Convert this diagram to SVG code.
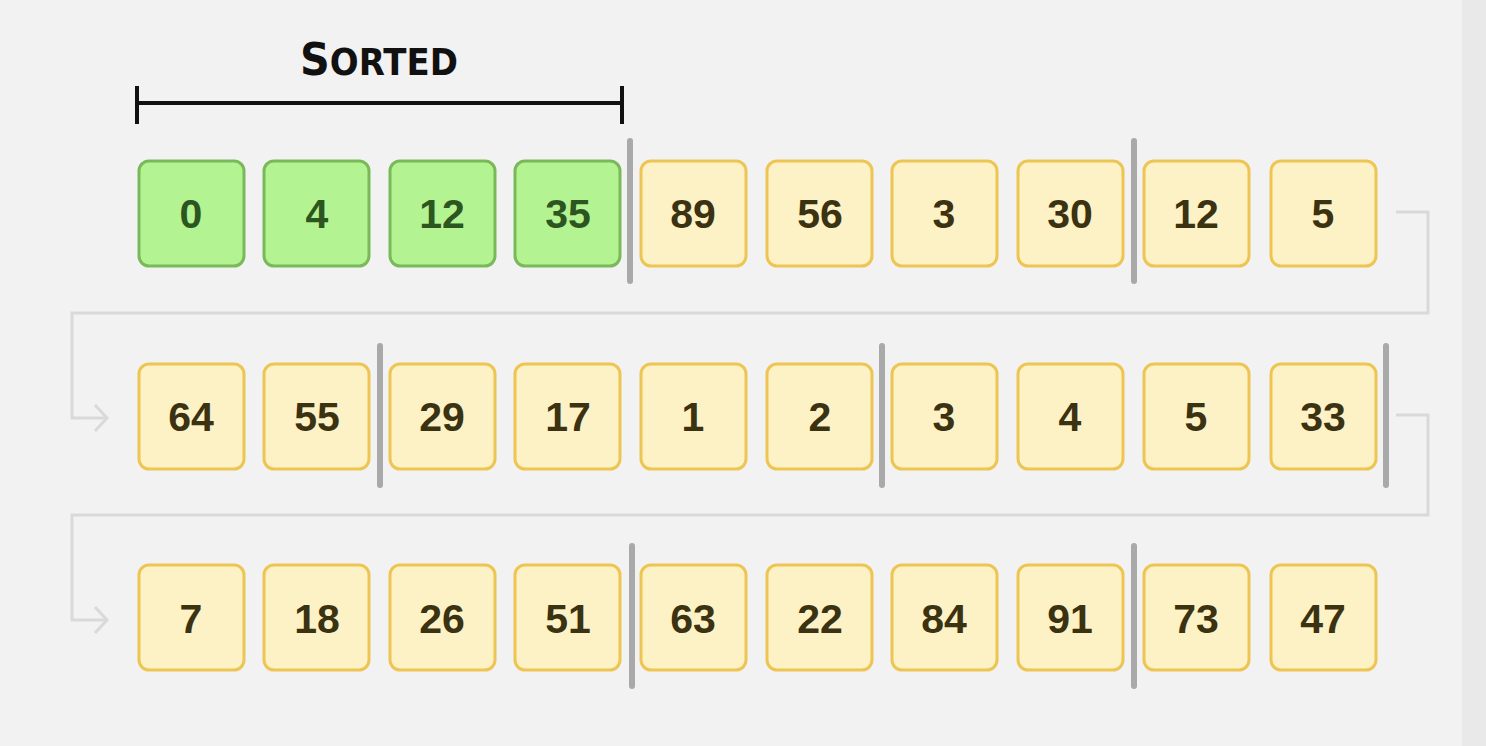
<svg xmlns="http://www.w3.org/2000/svg" width="1486" height="746" viewBox="0 0 1486 746">
<defs>
<style>
.g rect{fill:#b4f391;stroke:#79b95a;stroke-width:3}
.g text{fill:#2d5520}
.y rect{fill:#fdf1c6;stroke:#eec552;stroke-width:3}
.y text{fill:#3a3210}
text.n{font-family:"Liberation Sans",Arial,sans-serif;font-weight:bold;font-size:41px;text-anchor:middle}
.div{stroke:#a9a9a9;stroke-width:6;stroke-linecap:round}
.conn{fill:none;stroke:#d9d9d9;stroke-width:3}
</style>
</defs>
<rect width="1486" height="746" fill="#f2f2f2"/>
<rect x="1462" y="0" width="24" height="746" fill="#e9e9e9"/>
<g id="sorted-label">
<text x="300" y="75" font-family="'DejaVu Sans',sans-serif" font-weight="bold" fill="#111" textLength="158" lengthAdjust="spacingAndGlyphs"><tspan font-size="45">S</tspan><tspan font-size="37">ORTED</tspan></text>
<path d="M137 103H622M137 86V124M622 86V124" stroke="#111" stroke-width="4" fill="none"/>
</g>
<g id="connectors" class="conn">
<path d="M1396 212H1428V313H72V418H106"/>
<path d="M95 405L107 418L95 431"/>
<path d="M1396 415H1428V515H72V620H106"/>
<path d="M95 607L107 620L95 633"/>
</g>
<g id="dividers">
<line class="div" x1="630" y1="141" x2="630" y2="281"/>
<line class="div" x1="1134" y1="141" x2="1134" y2="281"/>
<line class="div" x1="380" y1="346" x2="380" y2="485"/>
<line class="div" x1="882" y1="346" x2="882" y2="485"/>
<line class="div" x1="1386" y1="346" x2="1386" y2="485"/>
<line class="div" x1="632" y1="546" x2="632" y2="686"/>
<line class="div" x1="1134" y1="546" x2="1134" y2="686"/>
</g>
<g id="r1c1" class="g"><rect x="139" y="161" width="105" height="105" rx="10"/><text class="n" x="191" y="228">0</text></g>
<g id="r1c2" class="g"><rect x="264" y="161" width="105" height="105" rx="10"/><text class="n" x="317" y="228">4</text></g>
<g id="r1c3" class="g"><rect x="390" y="161" width="105" height="105" rx="10"/><text class="n" x="442" y="228">12</text></g>
<g id="r1c4" class="g"><rect x="515" y="161" width="105" height="105" rx="10"/><text class="n" x="568" y="228">35</text></g>
<g id="r1c5" class="y"><rect x="641" y="161" width="105" height="105" rx="10"/><text class="n" x="693" y="228">89</text></g>
<g id="r1c6" class="y"><rect x="767" y="161" width="105" height="105" rx="10"/><text class="n" x="820" y="228">56</text></g>
<g id="r1c7" class="y"><rect x="892" y="161" width="105" height="105" rx="10"/><text class="n" x="944" y="228">3</text></g>
<g id="r1c8" class="y"><rect x="1018" y="161" width="105" height="105" rx="10"/><text class="n" x="1070" y="228">30</text></g>
<g id="r1c9" class="y"><rect x="1144" y="161" width="105" height="105" rx="10"/><text class="n" x="1196" y="228">12</text></g>
<g id="r1c10" class="y"><rect x="1271" y="161" width="105" height="105" rx="10"/><text class="n" x="1323" y="228">5</text></g>
<g id="r2c1" class="y"><rect x="139" y="364" width="105" height="105" rx="10"/><text class="n" x="191" y="431">64</text></g>
<g id="r2c2" class="y"><rect x="264" y="364" width="105" height="105" rx="10"/><text class="n" x="317" y="431">55</text></g>
<g id="r2c3" class="y"><rect x="390" y="364" width="105" height="105" rx="10"/><text class="n" x="442" y="431">29</text></g>
<g id="r2c4" class="y"><rect x="515" y="364" width="105" height="105" rx="10"/><text class="n" x="568" y="431">17</text></g>
<g id="r2c5" class="y"><rect x="641" y="364" width="105" height="105" rx="10"/><text class="n" x="693" y="431">1</text></g>
<g id="r2c6" class="y"><rect x="767" y="364" width="105" height="105" rx="10"/><text class="n" x="820" y="431">2</text></g>
<g id="r2c7" class="y"><rect x="892" y="364" width="105" height="105" rx="10"/><text class="n" x="944" y="431">3</text></g>
<g id="r2c8" class="y"><rect x="1018" y="364" width="105" height="105" rx="10"/><text class="n" x="1070" y="431">4</text></g>
<g id="r2c9" class="y"><rect x="1144" y="364" width="105" height="105" rx="10"/><text class="n" x="1196" y="431">5</text></g>
<g id="r2c10" class="y"><rect x="1271" y="364" width="105" height="105" rx="10"/><text class="n" x="1323" y="431">33</text></g>
<g id="r3c1" class="y"><rect x="139" y="565" width="105" height="105" rx="10"/><text class="n" x="191" y="633">7</text></g>
<g id="r3c2" class="y"><rect x="264" y="565" width="105" height="105" rx="10"/><text class="n" x="317" y="633">18</text></g>
<g id="r3c3" class="y"><rect x="390" y="565" width="105" height="105" rx="10"/><text class="n" x="442" y="633">26</text></g>
<g id="r3c4" class="y"><rect x="515" y="565" width="105" height="105" rx="10"/><text class="n" x="568" y="633">51</text></g>
<g id="r3c5" class="y"><rect x="641" y="565" width="105" height="105" rx="10"/><text class="n" x="693" y="633">63</text></g>
<g id="r3c6" class="y"><rect x="767" y="565" width="105" height="105" rx="10"/><text class="n" x="820" y="633">22</text></g>
<g id="r3c7" class="y"><rect x="892" y="565" width="105" height="105" rx="10"/><text class="n" x="944" y="633">84</text></g>
<g id="r3c8" class="y"><rect x="1018" y="565" width="105" height="105" rx="10"/><text class="n" x="1070" y="633">91</text></g>
<g id="r3c9" class="y"><rect x="1144" y="565" width="105" height="105" rx="10"/><text class="n" x="1196" y="633">73</text></g>
<g id="r3c10" class="y"><rect x="1271" y="565" width="105" height="105" rx="10"/><text class="n" x="1323" y="633">47</text></g>
</svg>
